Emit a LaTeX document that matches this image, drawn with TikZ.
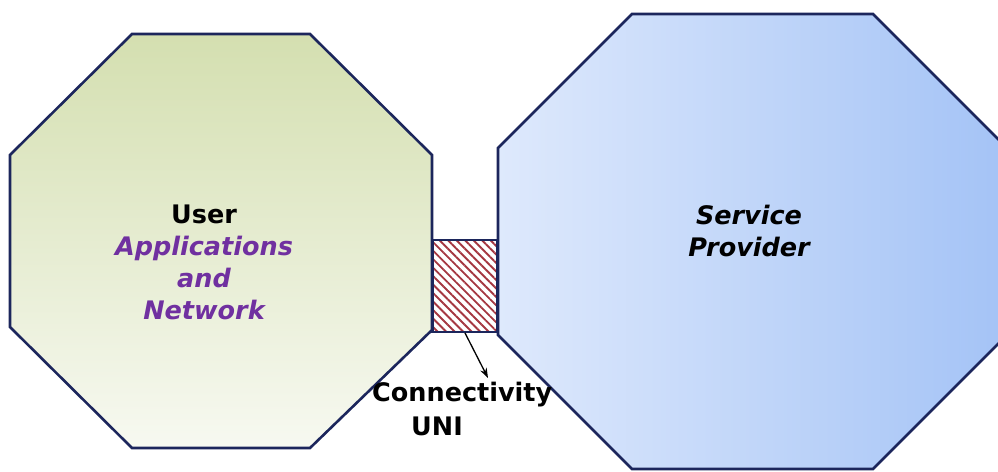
\documentclass[tikz,border=0pt]{standalone}
\usepackage{fontspec}
\setmainfont{DejaVu Sans}
\usetikzlibrary{patterns.meta,arrows.meta}
\definecolor{edge}{RGB}{28,38,92}
\definecolor{appl}{RGB}{112,48,160}
\definecolor{greentop}{RGB}{212,223,176}
\definecolor{greenbot}{RGB}{247,249,241}
\definecolor{blueleft}{RGB}{222,233,252}
\definecolor{blueright}{RGB}{164,195,246}
\definecolor{stripe}{RGB}{165,55,65}
\tikzset{
  octo/.style={draw=edge, line width=2.6pt, line join=miter},
  lbl/.style={font=\bfseries\fontsize{25.5}{32}\selectfont, align=center, inner sep=0pt}
}
\begin{document}
\begin{tikzpicture}[x=1pt,y=-1pt]
	\useasboundingbox (0,0) rectangle (998,471);
	\clip (0,0) rectangle (998,471);
	% user side
	\draw[octo, top color=greentop, bottom color=greenbot] (132,34)--(310,34)--(432,155)--(432,330)--(310,448)--(132,448)--(10,327)--(10,155)--cycle;
	% provider side
	\draw[octo, left color=blueleft, right color=blueright] (632,14)--(873,14)--(1007,148)--(1007,335)--(873,469)--(632,469)--(498,335)--(498,148)--cycle;
	\node[draw=edge, line width=2.6pt, minimum width=65pt, minimum height=92pt, inner sep=0pt,
	  pattern={Lines[angle=-45, distance=6pt, line width=1.9pt]}, pattern color=stripe] (uni) at (465,286) {};
	\node[lbl] (user) at (204,262) {User\\\textcolor{appl}{\itshape Applications}\\\textcolor{appl}{\itshape and}\\\textcolor{appl}{\itshape Network}};
	\node[lbl, font=\bfseries\itshape\fontsize{25.5}{32}\selectfont] (sp) at (749,231) {Service\\Provider};
	\node[lbl, anchor=west] (conn) at (372,395) {Connectivity};
	\node[lbl, anchor=west] (unilbl) at (411,426) {UNI};
	\coordinate (tip) at (488,378);
	\draw[-{Stealth[length=10pt,width=7pt]}, line width=1.3pt] (uni.south) -- (tip);
\end{tikzpicture}
\end{document}
